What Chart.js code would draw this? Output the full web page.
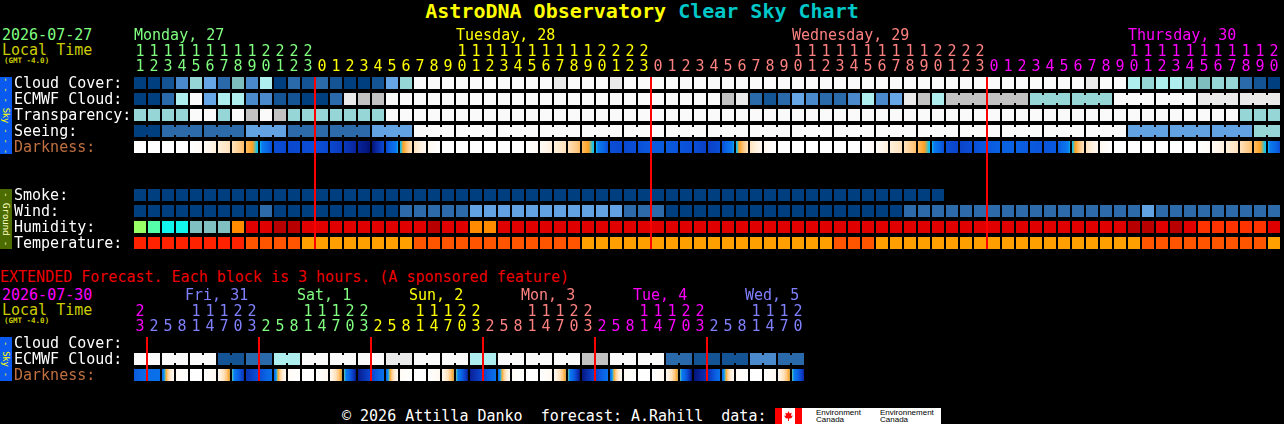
<!DOCTYPE html>
<html>
<head>
<meta charset="utf-8">
<script src="https://cdn.jsdelivr.net/npm/chart.js@4.4.1/dist/chart.umd.min.js"></script>
<style>
  html, body { margin: 0; padding: 0; background: #000; }
  body { width: 1284px; height: 424px; position: relative; overflow: hidden;
         font-family: "DejaVu Sans Mono", monospace; font-size: 15px; line-height: 15px; color: #fff; }
  .t { position: absolute; white-space: pre; }
  .small { font-size: 7.5px; line-height: 8px; font-weight: bold; }
  .bar { position: absolute; left: 0; width: 12px; display: flex; align-items: center; justify-content: center; }
  .bar span { writing-mode: vertical-rl; font-size: 9px; line-height: 12px; letter-spacing: -0.3px; white-space: pre; }
  canvas { position: absolute; left: 0; }
</style>
</head>
<body>
<div class="t" style="left:0;width:1284px;top:0;text-align:center;font-weight:bold;font-size:20px;line-height:22px;"><span style="color:#ffff00">AstroDNA Observatory</span> <span style="color:#00c8c8">Clear Sky Chart</span></div>

<div class="t" style="left:2px;top:28px;color:#80ff80">2026-07-27</div>
<div class="t" style="left:2px;top:43px;color:#cccc00">Local Time</div>
<div class="t small" style="left:4px;top:57px;color:#cccc00">(GMT -4.0)</div>

<div class="bar" style="top:77px;height:77px;background:#0a5af0"><span style="color:#ffff00">- - - Sky - - -</span></div>
<div class="bar" style="top:189px;height:60px;background:#4c6b00"><span style="color:#ffffc0;font-size:9.5px">- Ground -</span></div>

<div class="t" style="left:0;top:270px;color:#f00000">EXTENDED Forecast. Each block is 3 hours. (A sponsored feature)</div>
<div class="t" style="left:2px;top:288px;color:#ff00ff">2026-07-30</div>
<div class="t" style="left:2px;top:303px;color:#cccc00">Local Time</div>
<div class="t small" style="left:4px;top:317px;color:#cccc00">(GMT -4.0)</div>
<div class="bar" style="top:337px;height:44px;background:#0a5af0"><span style="color:#ffff00">- Sky -</span></div>

<div class="t" style="left:342px;top:409px;color:#fff">© 2026 Attilla Danko  forecast: A.Rahill  data: </div>
<div style="position:absolute;left:775px;top:408px;width:166px;height:16px;background:#fff;overflow:hidden">
  <div style="position:absolute;left:0;top:0;width:7px;height:16px;background:#f00"></div>
  <div style="position:absolute;left:20px;top:0;width:7px;height:16px;background:#f00"></div>
  <div style="position:absolute;left:9px;top:3px;width:9px;height:10px;background:#f00;clip-path:polygon(50% 0,62% 25%,85% 18%,78% 50%,100% 45%,80% 72%,55% 75%,55% 100%,45% 100%,45% 75%,20% 72%,0 45%,22% 50%,15% 18%,38% 25%)"></div>
  <div style="position:absolute;left:41px;top:1px;font:8px/7px 'Liberation Sans',sans-serif;color:#000;white-space:pre">Environment
Canada</div>
  <div style="position:absolute;left:105px;top:1px;font:8px/7px 'Liberation Sans',sans-serif;color:#000;white-space:pre">Environnement
Canada</div>
</div>

<canvas id="mainChart" width="1284" height="260" style="top:0"></canvas>
<canvas id="extChart" width="1284" height="130" style="top:260px"></canvas>

<script>
// ---- main forecast (1 block = 1 hour) ----
const mainDays = ["Monday, 27", "Tuesday, 28", "Wednesday, 29", "Thursday, 30"];
const mainDayColors = ["#80ff80", "#ffff00", "#ff8080", "#ff00ff"];
const mainHours = [11, 12, 13, 14, 15, 16, 17, 18, 19, 20, 21, 22, 23,
    0, 1, 2, 3, 4, 5, 6, 7, 8, 9, 10, 11, 12, 13, 14, 15, 16, 17, 18, 19, 20, 21, 22, 23,
    0, 1, 2, 3, 4, 5, 6, 7, 8, 9, 10, 11, 12, 13, 14, 15, 16, 17, 18, 19, 20, 21, 22, 23,
    0, 1, 2, 3, 4, 5, 6, 7, 8, 9, 10, 11, 12, 13, 14, 15, 16, 17, 18, 19, 20];
const mainRows = ["Cloud Cover:", "ECMWF Cloud:", "Transparency:", "Seeing:", "Darkness:", "", "",
    "Smoke:", "Wind:", "Humidity:", "Temperature:"];

// cloud cover in %
const cloudCover = [0, 0, 10, 30, 60, 40, 20, 50, 30, 70, 0, 20, 10,
    20, 10, 0, 0, 10, 40, 60, 100, 100, 100, 100, 100, 100, 100, 100, 100, 100, 90, 100, 100, 100, 90, 100, 100,
    100, 100, 100, 100, 100, 100, 100, 100, 100, 100, 100, 100, 100, 100, 100, 100, 100, 100, 100, 100, 100, 100, 100, 100,
    100, 100, 100, 100, 100, 100, 100, 90, 100, 100, 70, 60, 70, 70, 60, 50, 60, 60, 20, 10, 0];
const ecmwfCloud = [0, 0, 20, 70, 100, 40, 70, 70, 30, 30, 10, 10, 0,
    0, 20, 90, 80, 80, 100, 100, 100, 100, 100, 100, 100, 100, 100, 100, 100, 100, 100, 100, 100, 100, 100, 100, 100,
    100, 100, 100, 100, 100, 80, 90, 20, 10, 20, 40, 30, 20, 20, 30, 70, 30, 40, 90, 80, 70, 80, 80, 80,
    80, 80, 80, 60, 60, 60, 60, 60, 60, 100, 100, 100, 100, 100, 100, 90, 90, 90, 90, 90, 90];
const ecmwfThreeHourlyFrom = 58;
// 0 too cloudy, 1 poor, 2 below average ... 5 transparent
const transparency = [2, 2, 2, 2, 0, 0, 2, 0, 1, 0, 1, 2, 2,
    2, 2, 2, 2, 2, 0, 0, 0, 0, 0, 0, 0, 0, 0, 0, 0, 0, 0, 0, 0, 0, 0, 0, 0,
    0, 0, 0, 0, 0, 0, 0, 0, 0, 0, 0, 0, 0, 0, 0, 0, 0, 0, 0, 0, 0, 0, 0, 0,
    0, 0, 0, 0, 0, 0, 0, 0, 0, 0, 0, 0, 0, 0, 0, 0, 0, 0, 2, 2, 2];
// 0 too cloudy, 1 bad ... 5 excellent
const seeing = [5, 5, 4, 4, 4, 4, 4, 4, 3, 3, 3, 4, 4,
    4, 4, 4, 4, 3, 3, 3, 0, 0, 0, 0, 0, 0, 0, 0, 0, 0, 0, 0, 0, 0, 0, 0, 0,
    0, 0, 0, 0, 0, 0, 0, 0, 0, 0, 0, 0, 0, 0, 0, 0, 0, 0, 0, 0, 0, 0, 0, 0,
    0, 0, 0, 0, 0, 0, 0, 0, 0, 0, 3, 3, 3, 3, 3, 3, 3, 3, 3, 2, 2];
// limiting magnitude at every hour boundary (negative = daylight), one more than blocks
const darkness = [-6, -6, -6, -6, -6, -5, -3.5, -2.5, -1.2, 0.1, 3.6, 3.9, 3.8,
    3.6, 3.9, 4.6, 5.6, 6.4, 3.9, 0.2, -2.6, -4.5, -6, -6, -6, -6, -6, -6, -6, -5, -3.5, -2.5, -1.2, 0.1, 3.6, 3.9, 3.6,
    3.0, 3.0, 3.3, 3.6, 4.3, 3.6, 0.2, -2.6, -4.5, -6, -6, -6, -6, -6, -6, -6, -5, -3.5, -2.5, -1.2, 0.1, 3.6, 4.1, 3.6,
    3.0, 2.6, 2.6, 3.0, 3.3, 3.0, 0.2, -2.6, -4.5, -6, -6, -6, -6, -6, -6, -6, -5, -3.5, -2.5, -1.2, 0.1, 3.6];
// smoke in ug/m3 (no data after Wednesday 20:00)
const smoke = [0, 0, 0, 0, 0, 0, 0, 0, 0, 0, 0, 0, 0,
    0, 0, 0, 0, 0, 0, 0, 0, 0, 0, 0, 0, 0, 0, 0, 0, 0, 0, 0, 0, 0, 0, 0, 0,
    0, 0, 0, 0, 0, 0, 0, 0, 0, 0, 0, 0, 0, 0, 0, 0, 0, 0, 0, 0, 0];
const windMph = [3, 3, 3, 4, 4, 4, 3, 3, 4, 8, 4, 3, 3,
    3, 3, 4, 4, 4, 5, 8, 8, 9, 9, 8, 13, 14, 14, 14, 15, 14, 14, 13, 14, 13, 13, 8, 8,
    8, 4, 4, 4, 3, 3, 3, 3, 3, 4, 4, 4, 4, 3, 3, 3, 3, 4, 8, 8, 8, 8, 8, 8,
    8, 8, 9, 9, 9, 8, 8, 8, 8, 8, 8, 13, 9, 9, 9, 8, 8, 8, 8, 8, 8];
const humidity = [50, 57, 62, 62, 68, 68, 68, 77, 88, 88, 97, 97, 88,
    88, 88, 88, 88, 88, 88, 88, 88, 97, 88, 88, 77, 77, 88, 88, 88, 88, 88, 88, 88, 88, 88, 88, 88,
    88, 88, 88, 88, 88, 88, 88, 88, 88, 88, 88, 88, 88, 88, 88, 88, 88, 88, 88, 88, 88, 88, 88, 88,
    88, 88, 88, 88, 88, 88, 88, 88, 88, 88, 97, 97, 88, 97, 88, 82, 82, 82, 82, 82, 88];
const temperatureC = [31, 31, 31, 31, 31, 31, 31, 31, 27, 27, 27, 27, 23,
    23, 23, 23, 23, 23, 23, 23, 27, 27, 27, 27, 27, 27, 27, 27, 27, 27, 27, 27, 23, 23, 23, 23, 23,
    23, 23, 23, 23, 23, 23, 23, 23, 23, 23, 23, 23, 23, 27, 27, 27, 23, 23, 23, 23, 23, 23, 23, 23,
    23, 23, 23, 23, 23, 23, 23, 23, 23, 23, 23, 27, 27, 27, 27, 27, 27, 27, 27, 27, 23];

// ---- extended forecast (1 block = 3 hours) ----
const extDays = ["Fri, 31", "Sat, 1", "Sun, 2", "Mon, 3", "Tue, 4", "Wed, 5"];
const extDayColors = ["#ff00ff", "#8080ff", "#80ff80", "#ffff00", "#ff8080", "#ff00ff", "#8080ff"];
const extHours = [23, 2, 5, 8, 11, 14, 17, 20, 23, 2, 5, 8, 11, 14, 17, 20, 23,
    2, 5, 8, 11, 14, 17, 20, 23, 2, 5, 8, 11, 14, 17, 20, 23,
    2, 5, 8, 11, 14, 17, 20, 23, 2, 5, 8, 11, 14, 17, 20];
const extRows = ["Cloud Cover:", "ECMWF Cloud:", "Darkness:"];
const extCloudCover = [];
const extEcmwfCloud = [100, 100, 100, 100, 100, 100, 10, 10, 20, 20, 70, 70, 100, 100, 100, 100,
    100, 100, 90, 90, 100, 100, 100, 100, 70, 70, 100, 100, 100, 100, 100, 100,
    80, 80, 100, 100, 100, 100, 20, 20, 10, 10, 10, 10, 30, 30, 20, 20];
const extDarkness = [3.0, 1.8, 1.5, -5, -6, -6, -4.5, -0.3, 5.0, 3.5, 1.5, -5, -6, -6, -4.5, -0.3,
    6.0, 4.0, 1.5, -5, -6, -6, -4.5, -0.3, 5.8, 4.0, 1.5, -5, -6, -6, -4.5, -0.3,
    6.2, 4.0, 1.5, -5, -6, -6, -4.5, -0.3, 6.3, 5.0, 1.5, -5, -6, -6, -4.5, -0.3, 5.5];

// ---- colour scales ----
const cloudColors = ["#003f7f", "#145494", "#2a6aaa", "#4a8acc", "#66a6e6", "#7ebebe",
    "#96d6d6", "#aeeeee", "#c2c2c2", "#eaeaea", "#fafafa"];
const cloudColor = p => cloudColors[Math.round(p / 10)];
const transColors = ["#fafafa", "#c2c2c2", "#96d6d6", "#62a6e6", "#2c6cac", "#003f7f"];
const seeingColors = ["#fafafa", "#c8e8e8", "#96d6d6", "#62a2e2", "#2c6aaa", "#003f7f"];
const smokeColor = () => "#003f7f";
const windColor = m => m <= 5 ? "#003f7f" : m <= 11 ? "#2c6aaa" : m <= 16 ? "#62a2e2" : m <= 28 ? "#96d6d6" : "#fafafa";
const humColor = h => h <= 52 ? "#99ff66" : h <= 58 ? "#55ffaa" : h <= 64 ? "#11f5ee" : h <= 72 ? "#80c0c0"
    : h <= 79 ? "#ff8c00" : h <= 85 ? "#ff3300" : h <= 93 ? "#e00000" : "#b80000";
const tempColor = t => t >= 29 ? "#ff2200" : t >= 25 ? "#ff5500" : "#ffa000";

const darkStops = [[-6, "#ffffff"], [-4.5, "#fff8f0"], [-3.5, "#fff0dc"], [-2.5, "#ffe2bc"], [-1.5, "#ffc880"],
    [-0.5, "#ffa020"], [0, "#10c8f0"], [0.6, "#0a7cf0"], [2.5, "#0a64e4"], [3.5, "#0a50d8"],
    [4.5, "#0a3cc0"], [5.5, "#0a26a0"], [6.5, "#001070"]];
function darkColor(v) {
    if (v <= darkStops[0][0]) return darkStops[0][1];
    for (let k = 1; k < darkStops.length; k++) {
        const [v1, c1] = darkStops[k];
        if (v <= v1) {
            const [v0, c0] = darkStops[k - 1];
            const t = (v - v0) / (v1 - v0);
            const a = parseInt(c0.slice(1), 16), b = parseInt(c1.slice(1), 16);
            const ch = s => Math.round(((a >> s) & 255) * (1 - t) + ((b >> s) & 255) * t);
            return `rgb(${ch(16)},${ch(8)},${ch(0)})`;
        }
    }
    return darkStops[darkStops.length - 1][1];
}

const CELL = 12;

function dayIndex(hours) {
    let d = 0;
    return hours.map((h, i) => (i > 0 && h < hours[i - 1] ? ++d : d));
}

function cellSet(row, values, color) {
    return {
        data: values.map((v, i) => ({ x: i, y: [row - 0.375, row + 0.375] })),
        backgroundColor: values.map(color),
        barThickness: CELL,
    };
}

// little bridges between blocks that belong to the same model step
function joinSet(row, values, color, joined) {
    const pts = [], cols = [];
    values.forEach((v, i) => {
        if (i + 1 < values.length && joined(i)) {
            pts.push({ x: i + 0.5, y: [row - 0.25, row + 0.25] });
            cols.push(color(v));
        }
    });
    return { data: pts, backgroundColor: cols, barThickness: 4 };
}

// darkness: each block shades from its start value to its end value
function darkSet(row, edges) {
    return {
        data: edges.slice(0, -1).map((v, i) => ({ x: i, y: [row - 0.375, row + 0.375] })),
        barThickness: CELL,
        backgroundColor: c => {
            if (c.type !== "data" || !c.raw) return "#fff";
            const i = c.raw.x;
            const v0 = edges[i], v1 = edges[i + 1];
            const x0 = c.chart.scales.x ? c.chart.scales.x.getPixelForValue(i) - CELL / 2 : NaN;
            if (!isFinite(x0)) return darkColor(v0);
            const g = c.chart.ctx.createLinearGradient(x0, 0, x0 + CELL, 0);
            for (let k = 0; k <= 12; k++) g.addColorStop(k / 12, darkColor(v0 + (v1 - v0) * k / 12));
            return g;
        },
    };
}

// red midnight markers
function midnightSet(hours, firstRow, lastRow) {
    const pts = [];
    hours.forEach((h, i) => { if (i > 0 && h < hours[i - 1]) pts.push({ x: i - 0.5, y: [firstRow - 0.375, lastRow + 0.375] }); });
    return { data: pts, backgroundColor: "#ff0000", barThickness: 2, order: -1 };
}

function makeChart(id, hours, rows, dayColors, datasets, padRight, padBottom) {
    const days = dayIndex(hours);
    return new Chart(document.getElementById(id), {
        type: "bar",
        data: { datasets: datasets.map(d => Object.assign({ borderWidth: 0, inflateAmount: 0, grouped: false }, d)) },
        options: {
            responsive: false,
            animation: false,
            events: [],
            layout: { padding: { left: 14, top: 0, right: padRight, bottom: padBottom } },
            plugins: { legend: { display: false }, tooltip: { enabled: false } },
            scales: {
                x: {
                    type: "linear", position: "top", offset: false, min: -0.5, max: hours.length - 0.5,
                    grid: { display: false, drawTicks: false }, border: { display: false },
                    afterBuildTicks: s => { s.ticks = hours.map((h, i) => ({ value: i })); },
                    afterFit: s => { s.height = 75; s.paddingLeft = 0; s.paddingRight = 0; },
                    ticks: {
                        autoSkip: false, maxRotation: 0, minRotation: 0, padding: 0,
                        font: { family: "DejaVu Sans Mono", size: 15, lineHeight: 1 },
                        color: c => dayColors[days[c.index]],
                        callback: (v, i) => [hours[i] >= 10 ? String(Math.floor(hours[i] / 10)) : "", String(hours[i] % 10)],
                    },
                },
                y: {
                    type: "linear", reverse: true, offset: false, min: -0.5, max: rows.length - 0.5,
                    grid: { display: false, drawTicks: false }, border: { display: false },
                    afterBuildTicks: s => { s.ticks = rows.map((r, i) => ({ value: i })); },
                    afterFit: s => { s.width = 119; s.paddingTop = 0; s.paddingBottom = 0; },
                    ticks: {
                        autoSkip: false, crossAlign: "far", padding: 0, labelOffset: 1,
                        font: { family: "DejaVu Sans Mono", size: 15, lineHeight: 1 },
                        color: c => (rows[c.index] === "Darkness:" ? "#c07040" : "#ffffff"),
                        callback: (v, i) => rows[i],
                    },
                },
            },
        },
    });
}

function placeDays(chart, hours, names, colors, firstDay, minHour, top, dx) {
    const days = dayIndex(hours);
    names.forEach((name, n) => {
        const d = n + firstDay;
        const i = hours.findIndex((h, k) => days[k] === d && h >= minHour);
        const el = document.createElement("div");
        el.className = "t";
        el.textContent = name;
        el.style.left = (chart.scales.x.getPixelForValue(i) - CELL / 2 + dx) + "px";
        el.style.top = top + "px";
        el.style.color = colors[d];
        document.body.appendChild(el);
    });
}

const seeingJoined = i => mainHours[i + 1] % 3 !== 1;
const ecmwfJoined = i => i >= ecmwfThreeHourlyFrom && mainHours[i + 1] % 3 !== 0;

const mainChart = makeChart("mainChart", mainHours, mainRows, mainDayColors, [
    cellSet(0, cloudCover, cloudColor),
    cellSet(1, ecmwfCloud, cloudColor),
    joinSet(1, ecmwfCloud, cloudColor, ecmwfJoined),
    cellSet(2, transparency, v => transColors[v]),
    cellSet(3, seeing, v => seeingColors[v]),
    joinSet(3, seeing, v => seeingColors[v], seeingJoined),
    darkSet(4, darkness),
    cellSet(7, smoke, smokeColor),
    cellSet(8, windMph, windColor),
    cellSet(9, humidity, humColor),
    cellSet(10, temperatureC, tempColor),
    midnightSet(mainHours, 0, 10),
], 3, 9);

const extChart = makeChart("extChart", extHours, extRows, extDayColors, [
    cellSet(0, extCloudCover, cloudColor),
    cellSet(1, extEcmwfCloud, cloudColor),
    joinSet(1, extEcmwfCloud, cloudColor, i => i % 2 === 0),
    darkSet(2, extDarkness),
    midnightSet(extHours, 0, 2),
], 479, 7);

placeDays(mainChart, mainHours, mainDays, mainDayColors, 0, 10, 28, 0);
placeDays(extChart, extHours, extDays, extDayColors, 1, 11, 288, -5);
</script>
</body>
</html>
